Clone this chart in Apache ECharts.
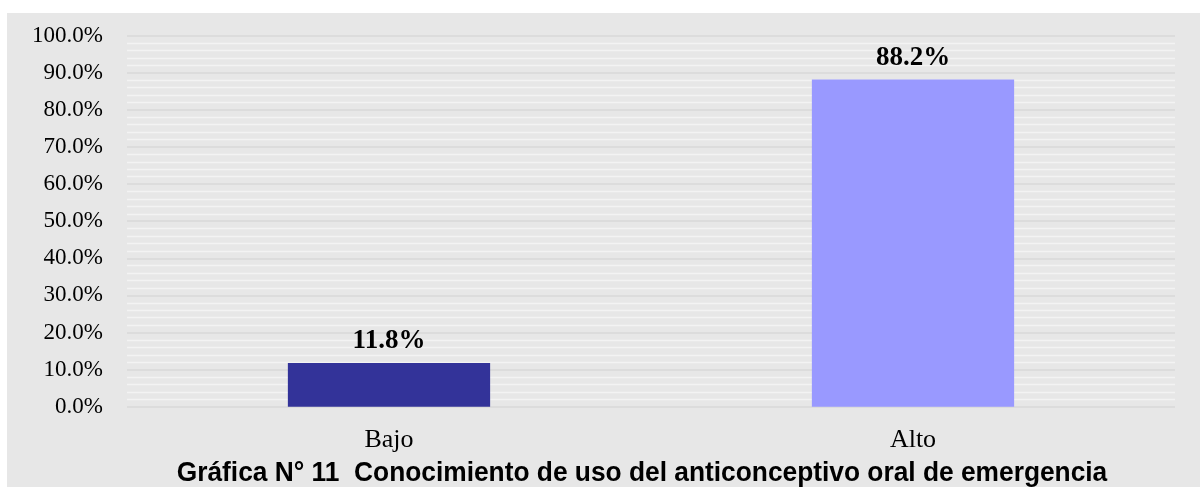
<!DOCTYPE html>
<html>
<head>
<meta charset="utf-8">
<script src="https://cdn.jsdelivr.net/npm/echarts@6/dist/echarts.min.js"></script>
<style>
html,body{margin:0;padding:0;background:#ffffff;width:1200px;height:487px;overflow:hidden;}
#chart{position:absolute;left:7px;top:13px;width:1193px;height:474px;background:#e7e7e7;}
</style>
</head>
<body>
<div id="chart"></div>
<script>
const categories = ['Bajo', 'Alto'];
const values = [11.8, 88.2];
const yTicks = [0, 10, 20, 30, 40, 50, 60, 70, 80, 90, 100];
const titleText = 'Gráfica N° 11  Conocimiento de uso del anticonceptivo oral de emergencia';

const barColors = ['#333399', '#9999ff'];

const chart = echarts.init(document.getElementById('chart'));
chart.setOption({
  backgroundColor: '#e7e7e7',
  animation: false,
  grid: { left: 120, right: 25, top: 22.7, bottom: 80.3, containLabel: false },
  xAxis: {
    type: 'category',
    data: categories,
    axisLine: { show: false },
    axisTick: { show: false },
    axisLabel: { color: '#000', fontFamily: 'Liberation Serif', fontSize: 26, margin: 20 }
  },
  yAxis: {
    type: 'value',
    min: yTicks[0],
    max: yTicks[yTicks.length - 1],
    interval: 10,
    axisLine: { show: false },
    axisTick: { show: false },
    axisLabel: {
      color: '#000', fontFamily: 'Liberation Serif', fontSize: 23, margin: 24,
      formatter: v => v.toFixed(1) + '%'
    },
    splitLine: { show: true, lineStyle: { color: '#d8d8d8', width: 1.6 } },
    minorTick: { show: false, splitNumber: 5 },
    minorSplitLine: { show: true, lineStyle: { color: '#f3f3f3', width: 1.4 } }
  },
  series: [{
    type: 'bar',
    barWidth: '38.6%',
    data: values.map((v, i) => ({ value: v, itemStyle: { color: barColors[i] } })),
    label: {
      show: true,
      position: 'top',
      distance: 8,
      color: '#000',
      fontFamily: 'Liberation Serif',
      fontWeight: 'bold',
      fontSize: 27,
      formatter: p => p.value.toFixed(1) + '%'
    }
  }],
  graphic: [{
    type: 'text',
    x: 635,
    y: 460,
    scaleX: 0.94,
    style: {
      text: titleText,
      textAlign: 'center',
      textVerticalAlign: 'middle',
      font: 'bold 28px "Liberation Sans", Arial, sans-serif',
      fill: '#000'
    }
  }]
});
</script>
</body>
</html>
